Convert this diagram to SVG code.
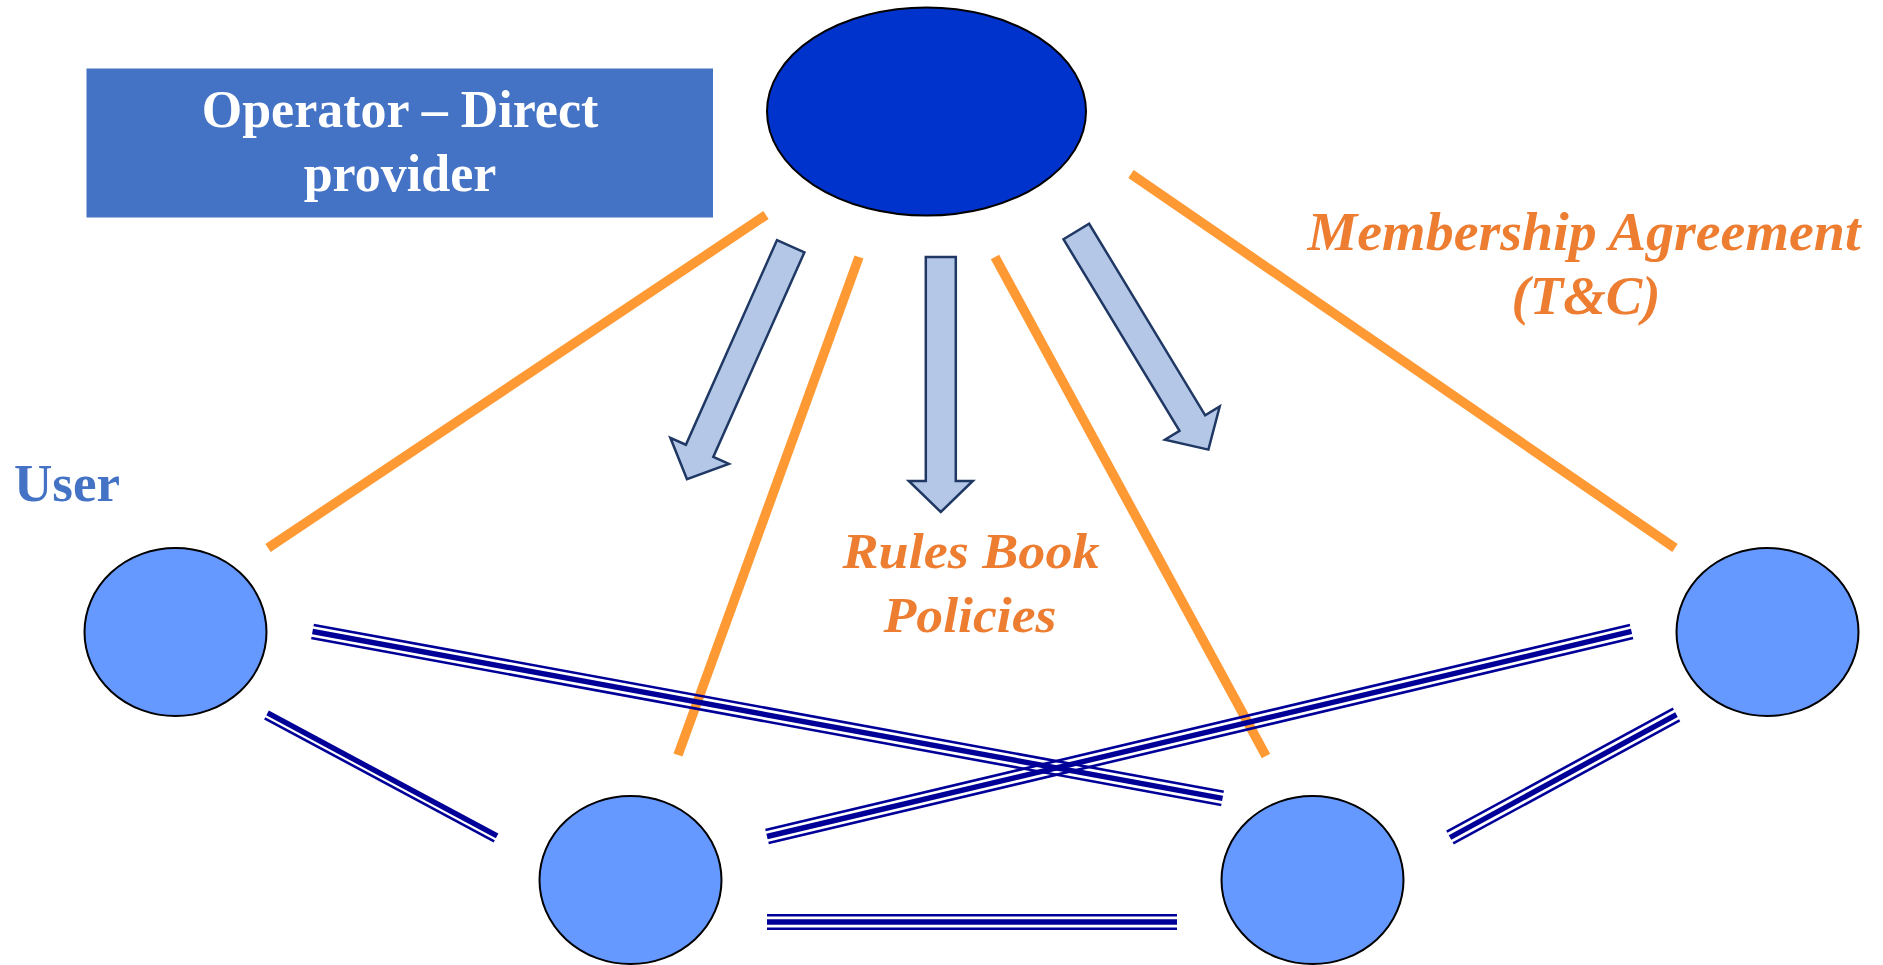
<svg xmlns="http://www.w3.org/2000/svg" width="1883" height="965" viewBox="0 0 1883 965">
<style>
.bg{fill:#ffffff}
.orange{stroke:#FF9933;stroke-width:9.5;stroke-linecap:butt;fill:none}
.thick{stroke:#000099;stroke-width:5.4;fill:none}
.thin{stroke:#000099;stroke-width:2.6;fill:none}
.arrow{fill:#B4C7E7;stroke:#1F3864;stroke-width:2.5;stroke-linejoin:miter}
.op{fill:#0033CC;stroke:#000000;stroke-width:2}
.user{fill:#6699FF;stroke:#000000;stroke-width:2}
.lbl{font-family:"Liberation Serif","Times New Roman",serif;font-weight:bold}
.white{fill:#ffffff;font-size:52px}
.blue{fill:#4472C4;font-size:52px}
.org{fill:#ED7D31;font-style:italic}
</style>
<defs>
<polygon id="blockArrow" class="arrow" points="-15,0 15,0 15,224 32,224 0,255 -32,224 -15,224"/>
</defs>
<rect class="bg" x="0" y="0" width="1883" height="965"/>

<g id="connectors">
  <line class="orange" x1="766" y1="215" x2="268" y2="548"/>
  <line class="orange" x1="859" y1="257" x2="678" y2="755"/>
  <line class="orange" x1="995" y1="257" x2="1266" y2="756"/>
  <line class="orange" x1="1131" y1="174" x2="1675" y2="548"/>

  <use href="#blockArrow" transform="translate(790.7,246.2) rotate(24)"/>
  <use href="#blockArrow" transform="translate(940.8,257)"/>
  <use href="#blockArrow" transform="translate(1076.3,231.5) rotate(-31.2)"/>

  <g transform="translate(312.5,631.5) rotate(10.39)">
    <line class="thin" x1="0" y1="-6.7" x2="925.2" y2="-6.7"/>
    <line class="thick" x1="0" y1="0" x2="925.2" y2="0"/>
    <line class="thin" x1="0" y1="6.7" x2="925.2" y2="6.7"/>
  </g>
  <g transform="translate(767,836.5) rotate(-13.34)">
    <line class="thin" x1="0" y1="-6.7" x2="888.5" y2="-6.7"/>
    <line class="thick" x1="0" y1="0" x2="888.5" y2="0"/>
    <line class="thin" x1="0" y1="6.7" x2="888.5" y2="6.7"/>
  </g>
  <g transform="translate(266.5,715) rotate(28.19)">
    <line class="thick" x1="0" y1="-2.3" x2="260.4" y2="-2.3"/>
    <line class="thin" x1="0" y1="3.8" x2="260.4" y2="3.8"/>
  </g>
  <g transform="translate(1450,837.5) rotate(-28.5)">
    <line class="thin" x1="0" y1="-6.7" x2="257.7" y2="-6.7"/>
    <line class="thick" x1="0" y1="0" x2="257.7" y2="0"/>
    <line class="thin" x1="0" y1="6.7" x2="257.7" y2="6.7"/>
  </g>
  <g transform="translate(767,922)">
    <line class="thin" x1="0" y1="-6.7" x2="410" y2="-6.7"/>
    <line class="thick" x1="0" y1="0" x2="410" y2="0"/>
    <line class="thin" x1="0" y1="6.7" x2="410" y2="6.7"/>
  </g>
</g>

<g id="operator-box">
  <rect x="86.5" y="68.5" width="626.5" height="149" fill="#4472C4"/>
  <text class="lbl white" x="400" y="127" text-anchor="middle">Operator – Direct</text>
  <text class="lbl white" x="400" y="191" text-anchor="middle">provider</text>
</g>

<g id="operator">
  <ellipse class="op" cx="926.5" cy="111.5" rx="159.5" ry="104"/>
</g>

<g id="user-label">
  <text class="lbl blue" x="14" y="501" textLength="106" lengthAdjust="spacingAndGlyphs">User</text>
</g>

<g id="user-left">
  <ellipse class="user" cx="175.5" cy="632" rx="91" ry="84"/>
</g>
<g id="user-bottom-left">
  <ellipse class="user" cx="630.5" cy="880" rx="91" ry="84"/>
</g>
<g id="user-bottom-right">
  <ellipse class="user" cx="1312.5" cy="880" rx="91" ry="84"/>
</g>
<g id="user-right">
  <ellipse class="user" cx="1767.5" cy="632" rx="91" ry="84"/>
</g>

<g id="membership-label">
  <text class="lbl org" font-size="54" x="1584" y="250" text-anchor="middle" textLength="553" lengthAdjust="spacingAndGlyphs">Membership Agreement</text>
  <text class="lbl org" font-size="54" x="1586" y="314" text-anchor="middle" textLength="149" lengthAdjust="spacingAndGlyphs">(T&amp;C)</text>
</g>

<g id="rules-label">
  <text class="lbl org" font-size="50" x="971" y="568" text-anchor="middle" textLength="257" lengthAdjust="spacingAndGlyphs">Rules Book</text>
  <text class="lbl org" font-size="50" x="970" y="632" text-anchor="middle" textLength="173" lengthAdjust="spacingAndGlyphs">Policies</text>
</g>
</svg>
